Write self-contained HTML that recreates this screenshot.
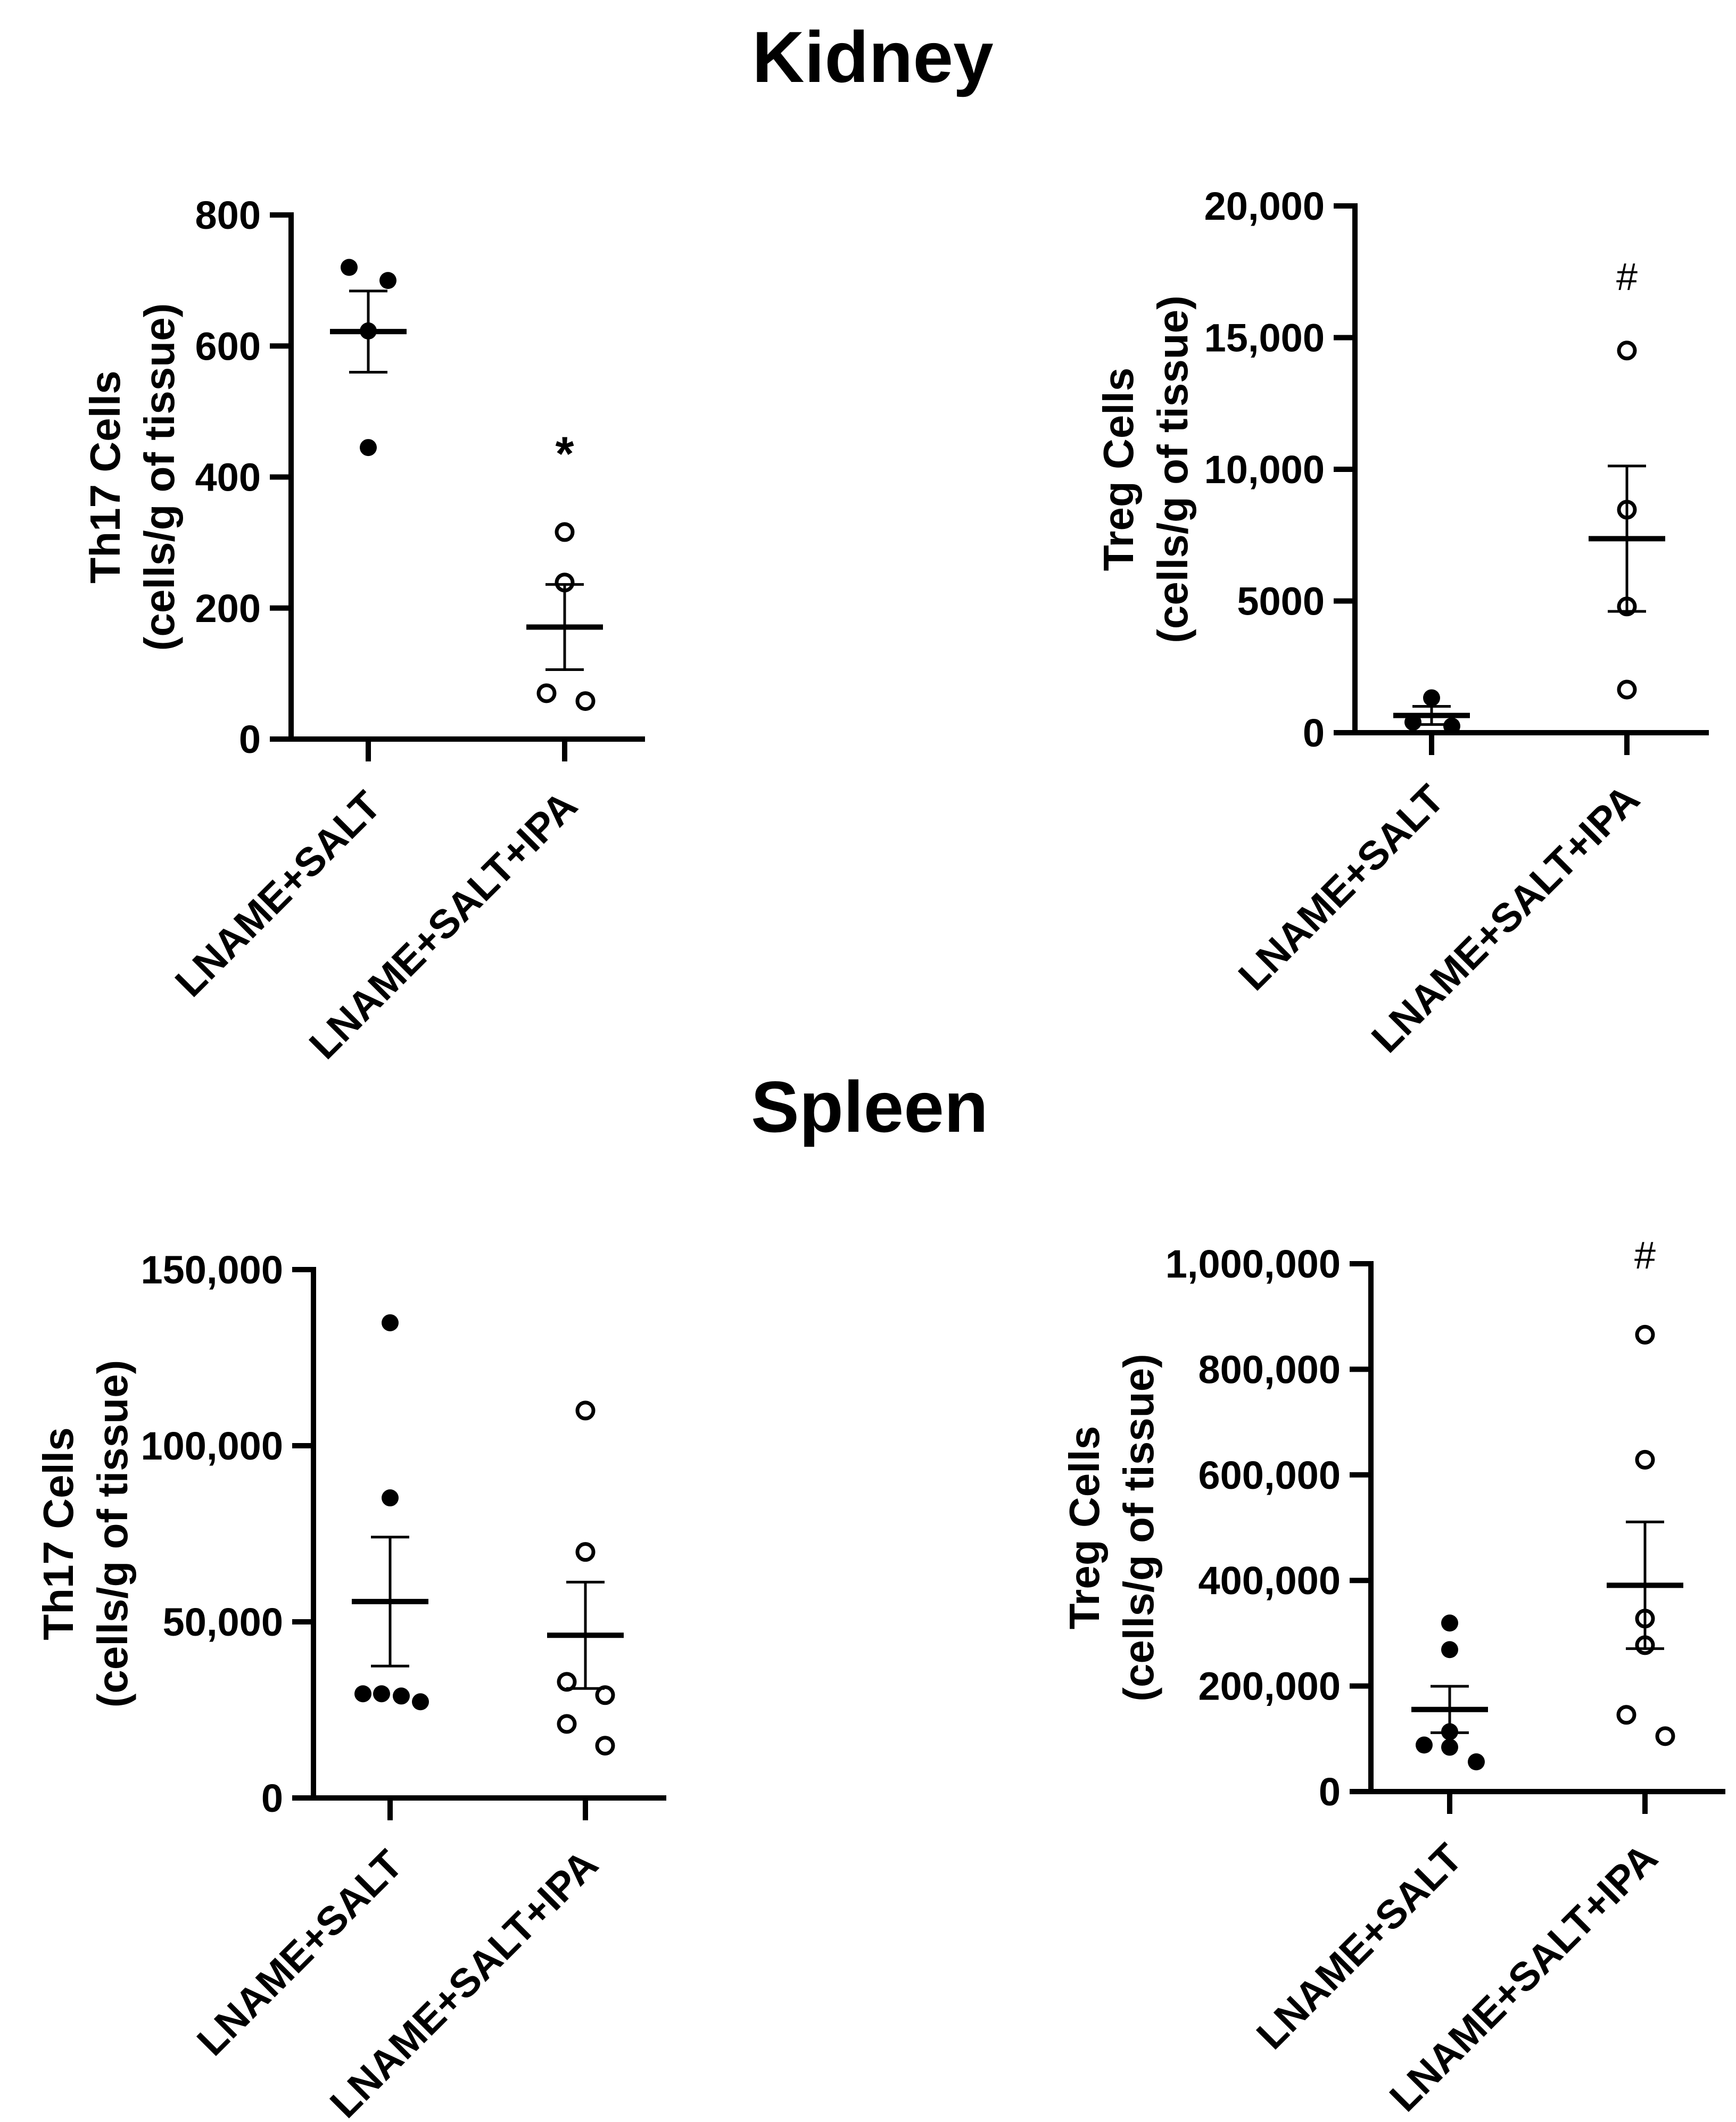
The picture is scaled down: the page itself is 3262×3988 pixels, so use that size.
<!DOCTYPE html>
<html><head><meta charset="utf-8"><style>html,body{margin:0;padding:0;background:#fff}svg{display:block}text{font-family:"Liberation Sans",Arial,sans-serif;fill:#000}</style></head>
<body>
<svg id="fig" xmlns="http://www.w3.org/2000/svg" width="3262" height="3988" viewBox="0 0 3262 3988">
<rect width="3262" height="3988" fill="#fff"/>
<text x="1640" y="154" font-size="136" font-weight="bold" text-anchor="middle">Kidney</text>
<text x="1634" y="2127" font-size="136" font-weight="bold" text-anchor="middle">Spleen</text>
</svg>
<script>
const categories = ["LNAME+SALT", "LNAME+SALT+IPA"];
// Kidney Th17
const kTh17Ctrl = [720, 700, 623, 445];
const kTh17Ipa = [316, 239, 70, 58];
const kTh17Mean = [622, 171];
const kTh17Sem = [62, 65];
const kTh17Ticks = [0, 200, 400, 600, 800];
const kTh17TickLabels = ["0", "200", "400", "600", "800"];
// Kidney Treg
const kTregCtrl = [1324, 400, 250];
const kTregIpa = [14509, 8467, 4792, 1637];
const kTregMean = [655, 7366];
const kTregSem = [345, 2760];
const kTregTicks = [0, 5000, 10000, 15000, 20000];
const kTregTickLabels = ["0", "5000", "10,000", "15,000", "20,000"];
// Spleen Th17
const sTh17Ctrl = [134900, 85190, 29570, 29570, 28940, 27300];
const sTh17Ipa = [109980, 69840, 32970, 29190, 21010, 14850];
const sTh17Mean = [55750, 46180];
const sTh17Sem = [18300, 15100];
const sTh17Ticks = [0, 50000, 100000, 150000];
const sTh17TickLabels = ["0", "50,000", "100,000", "150,000"];
// Spleen Treg
const sTregCtrl = [319300, 268900, 113400, 88200, 84000, 56300];
const sTregIpa = [865500, 628600, 327700, 277300, 145400, 105000];
const sTregMean = [155500, 390800];
const sTregSem = [44000, 120000];
const sTregTicks = [0, 200000, 400000, 600000, 800000, 1000000];
const sTregTickLabels = ["0", "200,000", "400,000", "600,000", "800,000", "1,000,000"];
// significance annotations (value positions)
const kTh17Sig = ["*", 435];
const kTregSig = ["#", 17290];
const sTregSig = ["#", 1015000];

const NS = "http://www.w3.org/2000/svg";
const svg = document.getElementById("fig");
function mk(tag, attrs, parent) {
  const e = document.createElementNS(NS, tag);
  for (const k in attrs) e.setAttribute(k, attrs[k]);
  (parent || svg).appendChild(e);
  return e;
}

function panel(cfg) {
  const g = mk("g", {});
  
  
  const max = cfg.ticks[cfg.ticks.length - 1];
  const y = v => cfg.y0 - (v / max) * (cfg.y0 - cfg.ytop);
  const cx = [cfg.c0, cfg.c1];
  const ya = mk("line", {x1: cfg.ax, y1: cfg.ytop - 5, x2: cfg.ax, y2: cfg.y0 + 5, stroke: "#000", "stroke-width": 10}, g);
  
  
  const xa = mk("line", {x1: cfg.ax - 40, y1: cfg.y0, x2: cfg.xEnd, y2: cfg.y0, stroke: "#000", "stroke-width": 10}, g);
  
  
  cfg.ticks.forEach((t, i) => {
    const ty = y(t);
    const tl = mk("line", {x1: cfg.ax - 40, y1: ty, x2: cfg.ax, y2: ty, stroke: "#000", "stroke-width": 10}, g);
    
    
    const tx = mk("text", {x: cfg.ax - 57, y: ty + 26, "font-size": 74, "font-weight": "bold", "text-anchor": "end"}, g);
    tx.textContent = cfg.tickLabels[i];
    
    
  });
  const cy = (cfg.y0 + cfg.ytop) / 2;
  const t1 = mk("text", {x: 0, y: 0, "font-size": 80, "font-weight": "bold", "text-anchor": "middle", transform: `translate(${cfg.tb},${cy}) rotate(-90)`}, g);
  t1.textContent = cfg.title;
  
  
  const t2 = mk("text", {x: 0, y: 0, "font-size": 80, "font-weight": "bold", "text-anchor": "middle", transform: `translate(${cfg.tb + 102},${cy}) rotate(-90)`}, g);
  t2.textContent = "(cells/g of tissue)";
  
  
  categories.forEach((c, i) => {
    const tk = mk("line", {x1: cx[i], y1: cfg.y0, x2: cx[i], y2: cfg.y0 + 42, stroke: "#000", "stroke-width": 10}, g);
    
    
    const lb = mk("text", {x: 0, y: 0, "font-size": 76, "font-weight": "bold", "text-anchor": "end", transform: `translate(${cx[i] + 28},${cfg.y0 + 130}) rotate(-45)`}, g);
    lb.textContent = c;
    
    
  });
  [cfg.ctrl, cfg.ipa].forEach((arr, gi) => {
    arr.forEach((v, j) => {
      const px = cx[gi] + (cfg.off[gi][j] || 0);
      const pt = gi === 0
        ? mk("circle", {cx: px, cy: y(v), r: 16, fill: "#000"}, g)
        : mk("circle", {cx: px, cy: y(v), r: 15, fill: "none", stroke: "#000", "stroke-width": 7}, g);
      
      
    });
    const m = cfg.mean[gi], s = cfg.sem[gi];
    const ml = mk("line", {x1: cx[gi] - 72, y1: y(m), x2: cx[gi] + 72, y2: y(m), stroke: "#000", "stroke-width": 10}, g);
    
    
    const el = mk("path", {d: `M${cx[gi]},${y(m + s)}V${y(m - s)}M${cx[gi] - 36},${y(m + s)}H${cx[gi] + 36}M${cx[gi] - 36},${y(m - s)}H${cx[gi] + 36}`, stroke: "#000", "stroke-width": 5, fill: "none"}, g);
    
    
  });
  if (cfg.sig) {
    const st = mk("text", {x: cx[1], y: y(cfg.sig[1]), "font-size": cfg.sig[0] === "*" ? 90 : 72, "font-weight": cfg.sig[0] === "*" ? "bold" : "normal", "text-anchor": "middle", "dominant-baseline": "central"}, g);
    st.textContent = cfg.sig[0];
    
    
  }
}

panel({name: "kidney-th17-panel", ax: 547, y0: 1389, ytop: 404, xEnd: 1212, c0: 692, c1: 1061, tb: 225, title: "Th17 Cells",
  ticks: kTh17Ticks, tickLabels: kTh17TickLabels, ctrl: kTh17Ctrl, ipa: kTh17Ipa, mean: kTh17Mean, sem: kTh17Sem,
  off: [[-36, 37, 0, 0], [0, 0, -34, 39]], sig: kTh17Sig});
panel({name: "kidney-treg-panel", ax: 2546, y0: 1377, ytop: 387, xEnd: 3211, c0: 2690, c1: 3057, tb: 2129, title: "Treg Cells",
  ticks: kTregTicks, tickLabels: kTregTickLabels, ctrl: kTregCtrl, ipa: kTregIpa, mean: kTregMean, sem: kTregSem,
  off: [[0, -35, 38], [0, 0, 0, 0]], sig: kTregSig});
panel({name: "spleen-th17-panel", ax: 589, y0: 3379, ytop: 2386, xEnd: 1252, c0: 733, c1: 1100, tb: 137, title: "Th17 Cells",
  ticks: sTh17Ticks, tickLabels: sTh17TickLabels, ctrl: sTh17Ctrl, ipa: sTh17Ipa, mean: sTh17Mean, sem: sTh17Sem,
  off: [[0, 0, -51, -16, 21, 57], [0, 0, -35, 37, -35, 37]], sig: null});
panel({name: "spleen-treg-panel", ax: 2576, y0: 3367, ytop: 2375, xEnd: 3242, c0: 2724, c1: 3091, tb: 2065, title: "Treg Cells",
  ticks: sTregTicks, tickLabels: sTregTickLabels, ctrl: sTregCtrl, ipa: sTregIpa, mean: sTregMean, sem: sTregSem,
  off: [[0, 0, 0, -48, 0, 50], [0, 0, 0, 0, -35, 38]], sig: sTregSig});
</script>
</body></html>
